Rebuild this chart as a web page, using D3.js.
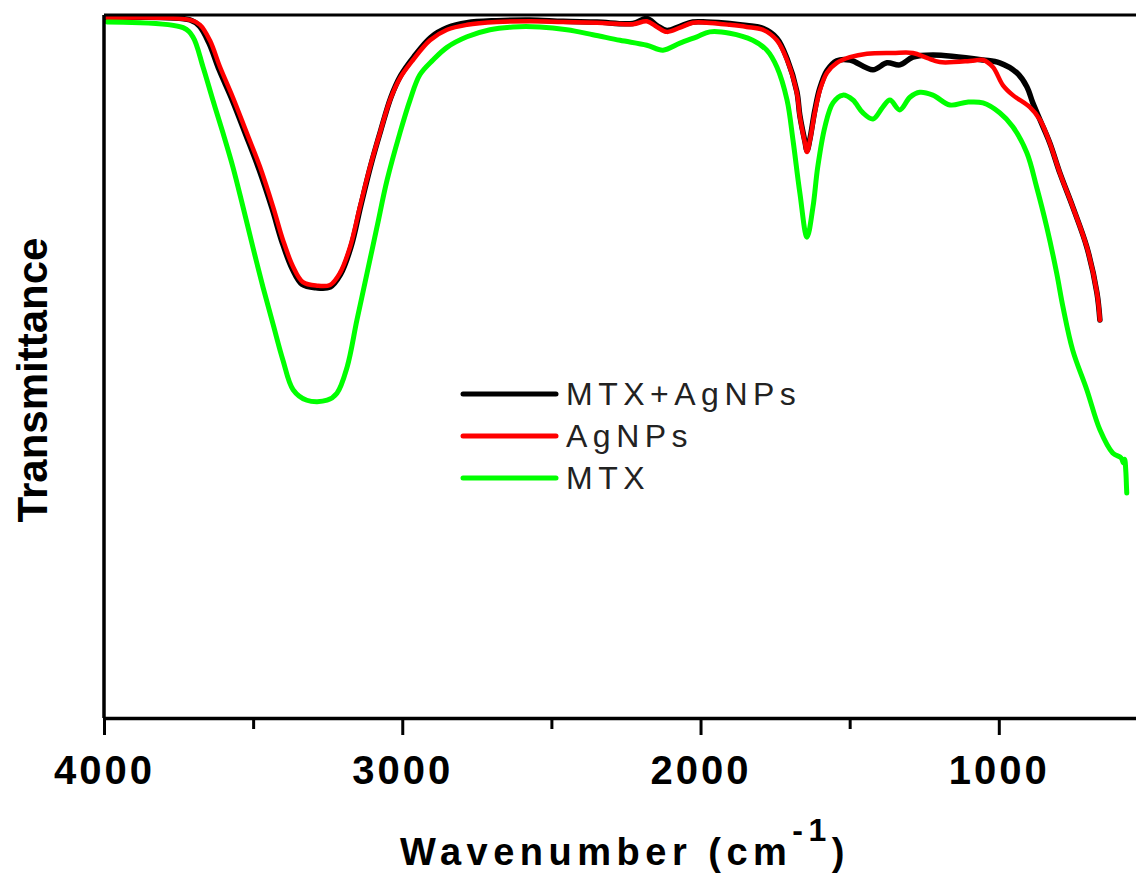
<!DOCTYPE html>
<html>
<head>
<meta charset="utf-8">
<script src="https://cdn.jsdelivr.net/npm/d3@7.9.0/dist/d3.min.js"></script>
<style>
  body { margin: 0; background: #fff; }
  svg { display: block; font-family: "Liberation Sans", Arial, sans-serif; }
</style>
</head>
<body>
<svg id="chart" width="1136" height="873"></svg>
<script>
// FTIR spectra (wavenumber in cm-1, transmittance in arbitrary %)
const agWave = [3990, 3712, 3678, 3645, 3611, 3568, 3521, 3477, 3433, 3400, 3366, 3333, 3286, 3242, 3209, 3175, 3142, 3108, 3075, 3041, 3008, 2964, 2907, 2850, 2783, 2683, 2572, 2461, 2347, 2227, 2180, 2146, 2113, 2069, 2026, 1979, 1902, 1845, 1791, 1744, 1710, 1677, 1667, 1650, 1643, 1633, 1617, 1600, 1576, 1543, 1499, 1442, 1355, 1288, 1241, 1198, 1087, 1053, 1020, 986, 953, 896, 862, 829, 795, 752, 705, 671, 661];
const agT = [99.6, 99.3, 98.6, 96.4, 92.6, 88.3, 83.2, 78.4, 72.7, 68.0, 64.2, 62.0, 61.5, 61.6, 63.3, 67.0, 72.7, 78.4, 83.2, 87.9, 91.0, 93.6, 96.4, 97.9, 98.6, 99.0, 99.1, 99.0, 98.9, 98.7, 99.1, 98.3, 97.6, 98.2, 98.9, 98.9, 98.6, 98.3, 97.9, 96.4, 93.6, 88.9, 85.5, 81.8, 80.5, 82.2, 86.1, 89.3, 91.8, 93.2, 94.0, 94.5, 94.6, 94.6, 93.9, 93.3, 93.5, 93.6, 92.6, 90.0, 88.6, 86.9, 85.1, 81.8, 77.5, 72.7, 67.0, 60.5, 56.6];

const mtxAgWave = [3990, 3712, 3680, 3648, 3614, 3571, 3524, 3480, 3436, 3403, 3369, 3336, 3289, 3242, 3207, 3172, 3139, 3105, 3072, 3038, 3005, 2962, 2905, 2848, 2783, 2683, 2572, 2461, 2347, 2227, 2180, 2146, 2113, 2069, 2026, 1979, 1902, 1845, 1791, 1744, 1710, 1677, 1667, 1650, 1643, 1633, 1617, 1600, 1576, 1543, 1499, 1422, 1375, 1332, 1288, 1221, 1053, 997, 940, 906, 886, 862, 829, 795, 752, 705, 671, 661];
const mtxAgT = [99.6, 99.3, 98.4, 96.0, 92.2, 88.0, 82.9, 78.0, 72.4, 67.7, 63.9, 61.7, 61.2, 61.3, 63.1, 67.0, 72.9, 78.7, 83.6, 88.3, 91.4, 94.0, 96.8, 98.2, 98.9, 99.2, 99.3, 99.1, 99.0, 98.8, 99.5, 98.5, 97.8, 98.4, 99.0, 99.0, 98.8, 98.5, 98.1, 96.7, 93.8, 89.1, 85.7, 82.0, 80.7, 82.4, 86.4, 89.6, 92.1, 93.5, 93.6, 92.2, 93.2, 92.9, 94.0, 94.3, 93.6, 93.2, 91.8, 89.8, 87.5, 85.1, 81.8, 77.5, 72.7, 67.0, 60.5, 56.6];

const mtxWave = [3990, 3735, 3702, 3668, 3635, 3601, 3568, 3534, 3501, 3467, 3433, 3400, 3366, 3320, 3252, 3219, 3185, 3152, 3118, 3085, 3051, 3008, 2974, 2941, 2897, 2850, 2783, 2706, 2629, 2539, 2448, 2361, 2270, 2180, 2126, 2069, 2012, 1969, 1902, 1825, 1778, 1744, 1710, 1690, 1667, 1643, 1623, 1607, 1583, 1556, 1523, 1489, 1456, 1422, 1389, 1365, 1332, 1298, 1265, 1221, 1164, 1107, 1053, 997, 953, 906, 873, 839, 806, 785, 752, 705, 661, 618, 590, 582, 578, 574, 572, 571];
const mtxT = [99.0, 98.2, 96.9, 92.6, 87.9, 83.2, 78.4, 72.7, 67.0, 61.3, 56.0, 50.9, 46.7, 45.2, 45.2, 46.2, 49.9, 56.6, 63.3, 69.8, 76.5, 83.2, 87.9, 91.5, 93.6, 95.4, 96.9, 97.9, 98.3, 98.3, 97.9, 97.2, 96.4, 95.7, 95.0, 96.0, 96.9, 97.6, 97.4, 96.4, 95.0, 92.6, 87.9, 82.2, 74.7, 68.4, 72.7, 78.4, 84.1, 87.5, 88.6, 87.9, 86.1, 85.2, 86.9, 87.9, 86.5, 88.3, 89.0, 88.6, 87.2, 87.6, 87.5, 86.1, 84.1, 80.4, 75.5, 69.8, 63.3, 58.5, 52.3, 46.7, 41.0, 37.7, 37.0, 36.3, 36.8, 35.0, 33.0, 32.0];

const seriesNames = ['MTX+AgNPs', 'AgNPs', 'MTX'];
const seriesColors = ['#000000', '#ff0000', '#00ff00'];
const majorTicks = [4000, 3000, 2000, 1000];
const minorTicks = [3500, 2500, 1500];

const series = [
  { name: seriesNames[0], color: seriesColors[0], pts: mtxAgWave.map((w, i) => [w, mtxAgT[i]]), width: 5.5 },
  { name: seriesNames[1], color: seriesColors[1], pts: agWave.map((w, i) => [w, agT[i]]), width: 4.5 },
  { name: seriesNames[2], color: seriesColors[2], pts: mtxWave.map((w, i) => [w, mtxT[i]]), width: 5 }
];

const svg = d3.select('#chart');
const mLeft = 104, mRight = 1136, mTop = 15, mBottom = 718;

const x = d3.scaleLinear().domain([4000, 540]).range([mLeft, mRight]);
const y = d3.scaleLinear().domain([0, 100]).range([mBottom, mTop]);

const line = d3.line()
  .x(d => x(d[0]))
  .y(d => y(d[1]))
  .curve(d3.curveCatmullRom.alpha(0.5));

svg.append('g')
  .selectAll('path')
  .data(series)
  .enter()
  .append('path')
    .attr('d', d => line(d.pts))
    .attr('fill', 'none')
    .attr('stroke', d => d.color)
    .attr('stroke-width', d => d.width)
    .attr('stroke-linejoin', 'round')
    .attr('stroke-linecap', 'round');

// frame: left axis, top line
svg.append('line')
  .attr('x1', mLeft).attr('x2', mLeft).attr('y1', mTop).attr('y2', mBottom)
  .attr('stroke', '#000').attr('stroke-width', 3.5);
svg.append('line')
  .attr('x1', mLeft).attr('x2', mRight).attr('y1', mTop).attr('y2', mTop)
  .attr('stroke', '#000').attr('stroke-width', 3);

// bottom axis
const xAxis = svg.append('g')
  .attr('transform', `translate(0,${mBottom})`)
  .call(d3.axisBottom(x).tickValues(majorTicks).tickSize(17).tickSizeOuter(0).tickFormat(d3.format('d')));
xAxis.select('.domain').attr('stroke-width', 3.5);
xAxis.selectAll('.tick line').attr('stroke-width', 3);
xAxis.selectAll('.tick text')
  .attr('y', 66).attr('dy', 0)
  .attr('font-size', 40).attr('font-weight', 'bold')
  .attr('letter-spacing', 3)
  .attr('fill', '#000');

svg.append('g')
  .attr('transform', `translate(0,${mBottom})`)
  .call(d3.axisBottom(x).tickValues(minorTicks).tickSize(11).tickSizeOuter(0).tickFormat(''))
  .call(g => g.select('.domain').remove())
  .selectAll('.tick line').attr('stroke-width', 3);

// axis titles
const xTitle = svg.append('text')
  .attr('x', 625).attr('y', 865)
  .attr('text-anchor', 'middle')
  .attr('font-size', 38).attr('font-weight', 'bold')
  .attr('letter-spacing', 5.5);
xTitle.append('tspan').text('Wavenumber (cm');
xTitle.append('tspan').attr('dy', -24).attr('font-size', 32).text('-1');
xTitle.append('tspan').attr('dy', 24).text(')');

svg.append('text')
  .attr('transform', 'translate(47,380) rotate(-90)')
  .attr('text-anchor', 'middle')
  .attr('font-size', 42).attr('font-weight', 'bold')
  .text('Transmittance');

// legend
const legend = svg.append('g');
const legendRows = legend.selectAll('g')
  .data(series)
  .enter()
  .append('g')
    .attr('transform', (d, i) => `translate(463,${394 + i * 42})`);
legendRows.append('line')
  .attr('x1', 0).attr('x2', 93)
  .attr('stroke', d => d.color)
  .attr('stroke-width', 5)
  .attr('stroke-linecap', 'round');
legendRows.append('text')
  .attr('x', 103).attr('y', 11)
  .attr('font-size', 32)
  .attr('letter-spacing', 5.5)
  .attr('fill', '#222')
  .text(d => d.name);
</script>
</body>
</html>
